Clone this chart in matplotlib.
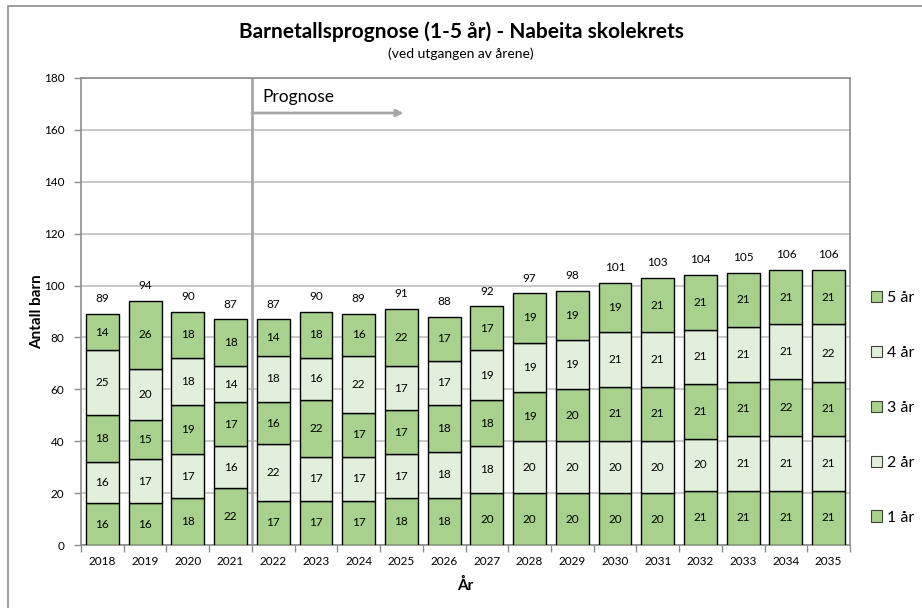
import matplotlib
matplotlib.use("Agg")
import matplotlib.pyplot as plt
from matplotlib.patches import Patch, Rectangle
import numpy as np

plt.rcParams['font.family'] = ['Lato', 'DejaVu Sans']

years = ['2018', '2019', '2020', '2021', '2022', '2023', '2024', '2025', '2026',
         '2027', '2028', '2029', '2030', '2031', '2032', '2033', '2034', '2035']
age1 = [16, 16, 18, 22, 17, 17, 17, 18, 18, 20, 20, 20, 20, 20, 21, 21, 21, 21]
age2 = [16, 17, 17, 16, 22, 17, 17, 17, 18, 18, 20, 20, 20, 20, 20, 21, 21, 21]
age3 = [18, 15, 19, 17, 16, 22, 17, 17, 18, 18, 19, 20, 21, 21, 21, 21, 22, 21]
age4 = [25, 20, 18, 14, 18, 16, 22, 17, 17, 19, 19, 19, 21, 21, 21, 21, 21, 22]
age5 = [14, 26, 18, 18, 14, 18, 16, 22, 17, 17, 19, 19, 19, 21, 21, 21, 21, 21]
totals = [89, 94, 90, 87, 87, 90, 89, 91, 88, 92, 97, 98, 101, 103, 104, 105, 106, 106]
series_labels = ['1 år', '2 år', '3 år', '4 år', '5 år']

dark = '#A9D18E'
light = '#E2EFDA'
colors = [dark, light, dark, light, dark]
grid_c = '#BFBFBF'
axis_c = '#8C8C8C'

fig = plt.figure(figsize=(9.22, 6.08), dpi=100)
# outer chart frame
fig.patches.append(Rectangle((8/922, -0.1), 1.2, 1 - 6/608 + 0.1, transform=fig.transFigure,
                             fill=False, edgecolor='#8C8C8C', linewidth=1.2))

ax = fig.add_axes([81/922, 63/608, 769/922, 467/608])
x = np.arange(len(years))
series = [age1, age2, age3, age4, age5]
bottom = np.zeros(len(years))
handles = []
for vals, col, lab in zip(series, colors, series_labels):
    vals = np.array(vals)
    ax.bar(x, vals, width=0.77, bottom=bottom, color=col, edgecolor='black',
           linewidth=1.0, zorder=3, label=lab)
    for xi, b, v in zip(x, bottom, vals):
        ax.text(xi, b + v / 2, str(v), ha='center', va='center', fontsize=8.5, zorder=4)
    bottom = bottom + vals
    handles.append(Patch(facecolor=col, edgecolor='#404040', linewidth=0.8, label=lab))

for xi, t, b in zip(x, totals, bottom):
    ax.annotate(str(t), (xi, b), xytext=(0, 7), textcoords='offset points',
                ha='center', va='bottom', fontsize=8.5)

ax.set_xlim(-0.5, len(years) - 0.5)
ax.set_ylim(0, 180)
ax.set_yticks(np.arange(0, 181, 20))
ax.set_xticks(x)
ax.set_xticklabels(years, fontsize=8.5)
ax.set_xticks(np.arange(-0.5, len(years), 1), minor=True)
ax.tick_params(axis='x', which='major', length=0, pad=8)
ax.tick_params(axis='x', which='minor', length=5, color=axis_c, width=1)
ax.tick_params(axis='y', length=5, color=axis_c, width=1, labelsize=8.5, pad=7)
ax.yaxis.grid(True, color=grid_c, linewidth=1.2, zorder=0)
ax.set_axisbelow(True)
for s in ax.spines.values():
    s.set_color(axis_c)
    s.set_linewidth(1.2)

ax.set_ylabel('Antall barn', fontsize=11, fontweight='bold', va='center')
ax.yaxis.set_label_coords(-0.0572, 0.499)
ax.set_xlabel('År', fontsize=11, fontweight='bold', va='center')
ax.xaxis.set_label_coords(0.5, -0.0857)

# forecast marker
ax.axvline(3.5, color='#A6A6A6', linewidth=2, zorder=2)
ax.annotate('', xy=(7.05, 166.5), xytext=(3.5, 166.5),
            arrowprops=dict(arrowstyle='-|>', color='#A6A6A6', lw=2, mutation_scale=10,
                            shrinkA=0, shrinkB=0), zorder=2)
ax.text(3.75, 172.5, 'Prognose', fontsize=12.5, ha='left', va='center')

fig.text(0.5, 1 - 32/608, 'Barnetallsprognose (1-5 år) - Nabeita skolekrets',
         ha='center', va='center', fontsize=15, fontweight='bold')
fig.text(0.5, 1 - 54/608, '(ved utgangen av årene)', ha='center', va='center', fontsize=10)

ax.legend(handles=handles[::-1], loc='center left', bbox_to_anchor=(1.027, 0.294),
          frameon=False, borderaxespad=0, borderpad=0, labelspacing=2.55,
          handlelength=0.7, handleheight=0.7, handletextpad=0.3, fontsize=11.5)

fig.savefig('out.png', dpi=100)
